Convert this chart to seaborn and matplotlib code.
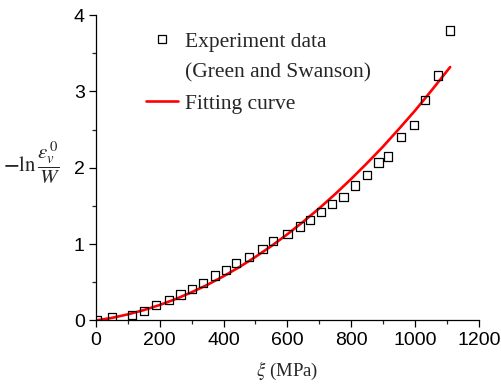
import numpy as np
import pandas as pd
import matplotlib
matplotlib.use("Agg")
import matplotlib.pyplot as plt
from matplotlib.lines import Line2D
from matplotlib.ticker import MultipleLocator
import seaborn as sns

# experiment data (Green and Swanson)
xi_exp = [4, 51, 114, 151, 189, 229, 265, 302, 335, 374, 407, 439, 480, 522, 555,
          600, 639, 671, 706, 740, 776, 812, 850, 885, 916, 955, 996, 1031, 1071, 1110]
y_exp = [0.01, 0.04, 0.07, 0.12, 0.20, 0.27, 0.34, 0.41, 0.49, 0.59, 0.66, 0.75, 0.83, 0.94, 1.04,
         1.13, 1.23, 1.32, 1.42, 1.53, 1.62, 1.77, 1.91, 2.07, 2.15, 2.40, 2.56, 2.89, 3.21, 3.80]

# fitting curve
xi_fit = [0, 50, 100, 150, 200, 250, 300, 350, 400, 450, 500, 550, 600,
          650, 700, 750, 800, 850, 900, 950, 1000, 1050, 1110]
y_fit = [0.0, 0.034, 0.080, 0.136, 0.203, 0.281, 0.37, 0.469, 0.58, 0.701, 0.833, 0.976, 1.13,
         1.295, 1.47, 1.657, 1.855, 2.063, 2.28, 2.512, 2.75, 3.005, 3.32]

df_exp = pd.DataFrame({"xi": xi_exp, "y": y_exp})
df_fit = pd.DataFrame({"xi": xi_fit, "y": y_fit})

sns.set_style("ticks")
plt.rcParams["font.family"] = ["Liberation Sans", "DejaVu Sans"]
plt.rcParams["mathtext.fontset"] = "stix"

fig = plt.figure(figsize=(5.02, 3.88), dpi=100)
ax = fig.add_axes([0.191, 0.174, 0.763, 0.787])

sns.lineplot(data=df_fit, x="xi", y="y", color="#ff0000", linewidth=1.9, ax=ax)
sns.scatterplot(data=df_exp, x="xi", y="y", marker="s", s=36, facecolor="none",
                edgecolor="black", linewidth=0.9, ax=ax, zorder=3)

ax.set_xlim(0, 1200)
ax.set_ylim(0, 4)
ax.xaxis.set_major_locator(MultipleLocator(200))
ax.xaxis.set_minor_locator(MultipleLocator(100))
ax.yaxis.set_major_locator(MultipleLocator(1))
ax.yaxis.set_minor_locator(MultipleLocator(0.5))
ax.tick_params(which="major", direction="out", length=5, width=0.9, labelsize=14, colors="black", pad=3)
ax.tick_params(which="minor", direction="out", length=3, width=0.9)
sns.despine(ax=ax)
for s in ["left", "bottom"]:
    ax.spines[s].set_linewidth(0.9)
    ax.spines[s].set_color("black")

ax.set_xlabel(r"$\xi$ (MPa)", fontfamily="Liberation Serif", fontsize=13.5, labelpad=8)
ax.set_ylabel("")
ax.text(-0.094, 0.515, r"$\mathbf{-}\ln\dfrac{\varepsilon_v^{\,0}}{W}$", transform=ax.transAxes,
        ha="right", va="center", fontsize=15)

handles = [Line2D([], [], marker="s", linestyle="none", markerfacecolor="none",
                  markeredgecolor="black", markersize=6, markeredgewidth=0.9),
           Line2D([], [], linestyle="none"),
           Line2D([], [], color="#ff0000", linewidth=1.9)]
labels = ["Experiment data", "(Green and Swanson)", "Fitting curve"]
ax.legend(handles, labels, loc="upper left", bbox_to_anchor=(0.13, 0.945), frameon=False,
          prop={"family": "Liberation Serif", "size": 15.5}, handlelength=1.5,
          handletextpad=0.33, labelspacing=0.5, borderpad=0, borderaxespad=0)

fig.savefig("out.png", dpi=100)
